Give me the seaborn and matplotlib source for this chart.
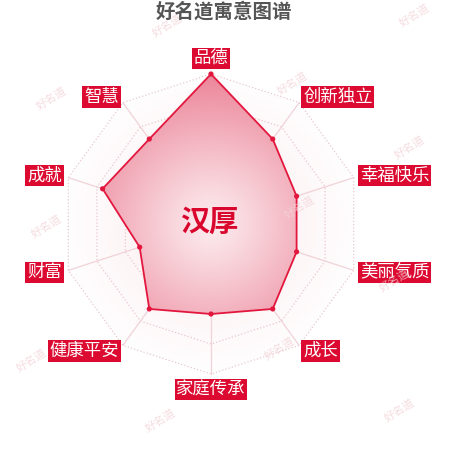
import numpy as np
import matplotlib.pyplot as plt
import seaborn as sns
from matplotlib.patches import Polygon

sns.set_theme(style="white")
plt.rcParams['font.family'] = ['Noto Sans CJK SC', 'DejaVu Sans']

title = "好名道寓意图谱"
name = "汉厚"
dims = ["品德", "创新独立", "幸福快乐", "美丽气质", "成长",
        "家庭传承", "健康平安", "财富", "成就", "智慧"]
scores = [100, 70, 60, 60, 70, 60, 70, 50, 76, 70]
levels = [20, 40, 60, 80, 100]
max_score = 100

# watermark spots (pixels from top-left)
wm_x = [168, 415, 52, 293, 410, 47, 300, 395, 280, 32, 161, 400]
wm_y = [25, 15, 98, 83, 147, 226, 207, 280, 348, 360, 420, 410]

red = '#dc0a30'
line_red = '#e3173e'

n = len(dims)
ang = np.arange(n) * 2 * np.pi / n
ux, uy = np.sin(ang), np.cos(ang)

fig = plt.figure(figsize=(4.5, 4.5), dpi=100)
ax = fig.add_axes([0, 0, 1, 1])
ax.set_xlim(-211 / 1.5, 239 / 1.5)
ax.set_ylim(-226 / 1.5, 224 / 1.5)
ax.axis('off')

# watermarks
for x, y in zip(wm_x, wm_y):
    fig.text(x / 450, 1 - y / 450, "好名道", rotation=32, ha='center', va='center',
             fontsize=8, color='#f3d3d8', alpha=0.8, zorder=0)

# radial gradient helpers
g = np.linspace(-max_score, max_score, 300)
GX, GY = np.meshgrid(g, g)
R = np.clip(np.hypot(GX, GY) / max_score, 0, 1)

# faint background inside outer ring
outer = Polygon(np.c_[ux * max_score, uy * max_score], closed=True, fc='none', ec='none')
ax.add_patch(outer)
bg = np.zeros(R.shape + (4,))
bg[..., 0], bg[..., 1], bg[..., 2] = 0.94, 0.62, 0.68
bg[..., 3] = 0.2 * (1 - R) ** 0.8
im = ax.imshow(bg, extent=(-max_score, max_score, -max_score, max_score),
               origin='lower', zorder=1, interpolation='bilinear')
im.set_clip_path(outer)

# grid rings and spokes
for lv in levels:
    ax.plot(np.r_[ux, ux[0]] * lv, np.r_[uy, uy[0]] * lv, ls=':', lw=0.9,
            color='#e8c8ce', zorder=2)
for i in range(n):
    ax.plot([0, ux[i] * max_score], [0, uy[i] * max_score], lw=0.9,
            color='#f0d2d8', zorder=2)

# data polygon with radial gradient
s = np.array(scores, dtype=float)
px, py = ux * s, uy * s
poly = Polygon(np.c_[px, py], closed=True, fc='none', ec='none')
ax.add_patch(poly)
c0 = np.array([0.99, 0.93, 0.94])
c1 = np.array([0.925, 0.52, 0.60])
fill = np.ones(R.shape + (4,))
fill[..., :3] = c0 + (c1 - c0) * R[..., None] ** 1.1
im2 = ax.imshow(fill, extent=(-max_score, max_score, -max_score, max_score),
                origin='lower', zorder=3, interpolation='bilinear')
im2.set_clip_path(poly)
ax.plot(np.r_[px, px[0]], np.r_[py, py[0]], color=line_red, lw=1.3, zorder=4)
sns.scatterplot(x=px, y=py, color=line_red, s=14, edgecolor='none', ax=ax, zorder=5)

# axis names
for i, d in enumerate(dims):
    x, y = ux[i] * 104.5, uy[i] * 104.5
    if abs(ux[i]) < 1e-6:
        ha = 'center'
    else:
        ha = 'left' if ux[i] > 0 else 'right'
    if i == 0:
        va = 'bottom'
    elif i == n // 2:
        va = 'top'
    else:
        va = 'center'
    ax.text(x, y, d, ha=ha, va=va, fontsize=12.5, color='white', zorder=6,
            bbox=dict(boxstyle='square,pad=0.1', fc=red, ec='none'))

ax.text(-0.3, 1.3, name, ha='center', va='center', fontsize=21, weight='bold',
        color='#d9062e', zorder=7)
fig.text(224 / 450, 1 - 12 / 450, title, ha='center', va='center', fontsize=14,
         weight='bold', color='#555555')

fig.savefig('out.png', dpi=100)
